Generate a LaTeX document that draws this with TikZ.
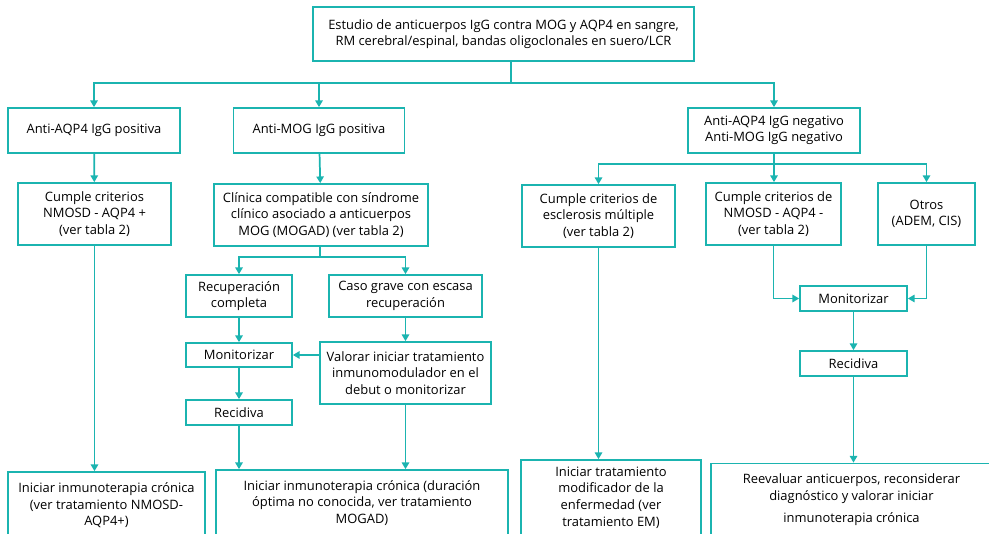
\documentclass[tikz,border=0pt]{standalone}
\usepackage{fontspec}
\setmainfont{Open Sans}
\usetikzlibrary{arrows.meta}
\definecolor{flowteal}{RGB}{27,180,176}

\begin{document}
\begin{tikzpicture}[x=0.75pt,y=-0.75pt]
\tikzset{
  flowbox/.style={rectangle,draw=flowteal,line width=1.3pt,inner sep=2pt,align=center,
    font=\fontsize{9.7}{12.4}\selectfont},
  flowedge/.style={draw=flowteal,line width=1.3pt,line join=miter},
  directed/.style={flowedge,-{Triangle[length=5pt,width=5.5pt]}}
}
\useasboundingbox (0,0) rectangle (989,534);
\clip (0,0) rectangle (989,534);
% top
\node[flowbox,minimum width=285.75pt,minimum height=40.5pt] (n_estudio) at (503.5,34)
  {Estudio de anticuerpos IgG contra MOG y AQP4 en sangre,\\RM cerebral/espinal, bandas oligoclonales en suero/LCR};
% antibody results
\node[flowbox,minimum width=129pt,minimum height=33.75pt] (n_aqp4pos) at (94,130.5) {Anti-AQP4 IgG positiva};
\node[flowbox,minimum width=128.25pt,minimum height=33.75pt] (n_mogpos) at (319,130.5) {Anti-MOG IgG positiva};
\node[flowbox,minimum width=129pt,minimum height=33.75pt] (n_neg) at (774,130.5) {Anti-AQP4 IgG negativo\\Anti-MOG IgG negativo};
% criteria
\node[flowbox,minimum width=114.75pt,minimum height=46.5pt] (n_nmosdpos) at (94.5,214) {Cumple criterios\\NMOSD - AQP4 +\\(ver tabla 2)};
\node[flowbox,minimum width=160.5pt,minimum height=46.5pt] (n_clinica) at (321,215) {Clínica compatible con síndrome\\clínico asociado a anticuerpos\\MOG (MOGAD) (ver tabla 2)};
\node[flowbox,minimum width=114.75pt,minimum height=46.5pt] (n_em) at (598.5,216) {Cumple criterios de\\esclerosis múltiple\\(ver tabla 2)};
\node[flowbox,minimum width=101.25pt,minimum height=46.5pt] (n_nmosdneg) at (773.5,214) {Cumple criterios de\\NMOSD - AQP4 -\\(ver tabla 2)};
\node[flowbox,minimum width=72.75pt,minimum height=46.5pt] (n_otros) at (926.5,214) {Otros\\(ADEM, CIS)};
% MOG branch
\node[flowbox,minimum width=79.5pt,minimum height=31.5pt] (n_recup) at (239,296) {Recuperación\\completa};
\node[flowbox,minimum width=114.75pt,minimum height=31.5pt] (n_grave) at (405.5,296) {Caso grave con escasa\\recuperación};
\node[flowbox,minimum width=79.5pt,minimum height=18pt] (n_monit_l) at (239,355) {Monitorizar};
\node[flowbox,minimum width=128.25pt,minimum height=46.5pt] (n_valorar) at (405.5,373) {Valorar iniciar tratamiento\\inmunomodulador en el\\debut o monitorizar};
\node[flowbox,minimum width=79.5pt,minimum height=18.75pt] (n_recid_l) at (239,412.5) {Recidiva};
% negative branch
\node[flowbox,minimum width=80.25pt,minimum height=18.75pt] (n_monit_r) at (853.5,298.5) {Monitorizar};
\node[flowbox,minimum width=80.25pt,minimum height=18.75pt] (n_recid_r) at (853.5,363.5) {Recidiva};
% treatments
\node[flowbox,minimum width=147.75pt,minimum height=50.25pt] (n_ini_aqp4) at (106.5,505.5) {Iniciar inmunoterapia crónica\\(ver tratamiento NMOSD-\\AQP4+)};
\node[flowbox,minimum width=219pt,minimum height=49.5pt] (n_ini_mog) at (362,503) {Iniciar inmunoterapia crónica (duración\\óptima no conocida, ver tratamiento\\MOGAD)};
\node[flowbox,minimum width=135pt,minimum height=56.25pt] (n_ini_em) at (611,497.5) {Iniciar tratamiento\\modificador de la\\enfermedad (ver\\tratamiento EM)};
\node[flowbox,minimum width=210.75pt,minimum height=54pt] (n_reevaluar) at (851.5,499.5) {Reevaluar anticuerpos, reconsiderar\\diagnóstico y valorar iniciar\\[4pt]inmunoterapia crónica};
% bus points
\coordinate (b_top) at (510.7,83);
\coordinate (b_mog) at (320,257);
\coordinate (b_neg) at (774,164);
% connectors
\draw[flowedge] (n_estudio.south -| b_top) -- (b_top);
\draw[directed] (b_top) -| (n_aqp4pos.north);
\draw[directed] (b_top) -| (n_mogpos.north);
\draw[directed] (b_top) -| (n_neg.north);
\draw[directed] (n_aqp4pos) -- (n_nmosdpos);
\draw[directed] (n_nmosdpos.south) -- (n_nmosdpos.south |- n_ini_aqp4.north);
\draw[directed] (n_mogpos) -- (n_clinica);
\draw[flowedge] (n_clinica.south -| b_mog) -- (b_mog);
\draw[directed] (b_mog) -| (n_recup.north);
\draw[directed] (b_mog) -| (n_grave.north);
\draw[directed] (n_recup) -- (n_monit_l);
\draw[directed] (n_grave) -- (n_valorar);
\draw[directed] (n_valorar.west |- n_monit_l.east) -- (n_monit_l.east);
\draw[directed] (n_monit_l) -- (n_recid_l);
\draw[directed] (n_recid_l.south) -- (n_recid_l.south |- n_ini_mog.north);
\draw[directed] (n_valorar.south) -- (n_valorar.south |- n_ini_mog.north);
\draw[flowedge] (n_neg.south) -- (b_neg);
\draw[directed] (b_neg) -| (n_em.north);
\draw[directed] (b_neg) -- (n_nmosdneg.north -| b_neg);
\draw[directed] (b_neg) -| (n_otros.north);
\draw[directed] (n_em.south) -- (n_em.south |- n_ini_em.north);
\draw[directed] (n_nmosdneg.south) |- (n_monit_r.west);
\draw[directed] (n_otros.south) |- (n_monit_r.east);
\draw[directed] (n_monit_r) -- (n_recid_r);
\draw[directed] (n_recid_r.south) -- (n_recid_r.south |- n_reevaluar.north);
\end{tikzpicture}
\end{document}
